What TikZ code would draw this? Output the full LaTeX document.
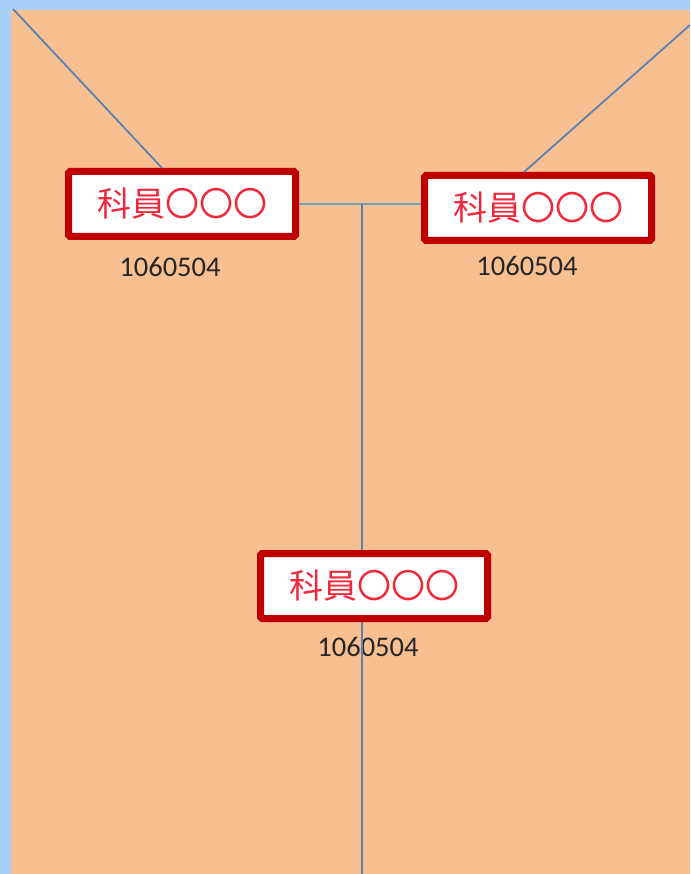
\documentclass[tikz,border=0pt]{standalone}
\usepackage{fontspec}
\setmainfont{Carlito}
\newfontfamily\cjk{Noto Sans CJK TC}
\usetikzlibrary{positioning}
\definecolor{bgblue}{RGB}{168,208,250}
\definecolor{peach}{RGB}{248,192,144}
\definecolor{boxred}{RGB}{192,0,0}
\definecolor{namered}{RGB}{240,40,60}
\definecolor{linkblue}{RGB}{90,130,180}
\definecolor{barblue}{RGB}{105,165,200}
\tikzstyle{member} = [rectangle, draw=boxred, line width=7pt, rounded corners=1.5pt, fill=white, text=namered, minimum width=227pt, minimum height=65pt, inner sep=0pt, font=\cjk\fontsize{34}{36}\selectfont]
\tikzstyle{code} = [text=black!85, inner sep=0pt, font=\fontsize{28.5}{30}\selectfont]
\tikzstyle{link} = [draw=linkblue, line width=1.8pt]
\tikzstyle{bar} = [draw=barblue, line width=1.8pt]
\begin{document}
\begin{tikzpicture}[x=1pt, y=-1pt]
    \useasboundingbox (0,0) rectangle (690,874);
    % background
    \fill [bgblue] (0,0) rectangle (690,874);
    \fill [peach] (11,10) rectangle (690,874);
    \coordinate (corner) at (13,9);
    \coordinate (edge) at (690,25);
    \coordinate (bottom) at (362,874);

    % Place nodes
    \node [member] (left) at (182,204) {科員〇〇〇};
    \node [member] (right) at (538,208) {科員〇〇〇};
    \coordinate (fork) at (362,204);
    \draw [bar] (left.east) -- (fork) -- (right.west |- fork);
    \draw [link] (fork) -- (bottom);
    \node [member] (lower) at (374,586) {科員〇〇〇};

    \node [code] (leftno) at (170,267) {1060504};
    \node [code] (rightno) at (527,266) {1060504};
    \node [code] (lowerno) at (368,647) {1060504};
    \draw [link] (fork |- lowerno.north) -- (fork |- lowerno.south);

    \draw [link] (corner) -- ([xshift=-20pt]left.north);
    \draw [link] (edge) -- ([xshift=-14pt]right.north);
\end{tikzpicture}
\end{document}
